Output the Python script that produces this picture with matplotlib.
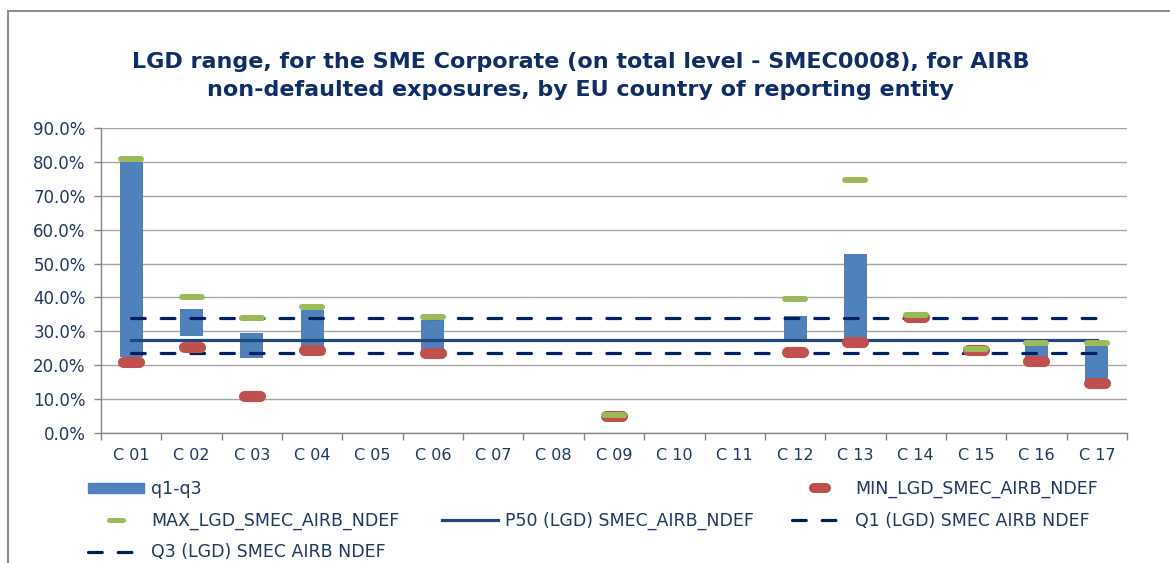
import numpy as np
import matplotlib
matplotlib.use("Agg")
import matplotlib.pyplot as plt
from matplotlib.lines import Line2D
from matplotlib.patches import Patch, Rectangle
from matplotlib.markers import MarkerStyle

plt.rcParams["font.family"] = ["DejaVu Sans"]

# data (LGD in %)
categories = ["C 01", "C 02", "C 03", "C 04", "C 05", "C 06", "C 07", "C 08", "C 09",
              "C 10", "C 11", "C 12", "C 13", "C 14", "C 15", "C 16", "C 17"]
q1 = [22.4, 28.6, 22.1, 25.5, np.nan, 24.5, np.nan, np.nan, np.nan,
      np.nan, np.nan, 27.3, 27.5, np.nan, np.nan, 22.0, 15.0]
q3 = [80.0, 36.6, 29.6, 36.4, np.nan, 33.4, np.nan, np.nan, np.nan,
      np.nan, np.nan, 34.6, 52.9, np.nan, np.nan, 26.3, 25.6]
min_lgd = [21.0, 25.4, 10.8, 24.4, np.nan, 23.7, np.nan, np.nan, 5.0,
           np.nan, np.nan, 23.8, 27.0, 34.3, 24.5, 21.2, 14.9]
max_lgd = [81.0, 40.2, 33.8, 37.3, np.nan, 34.3, np.nan, np.nan, 5.4,
           np.nan, np.nan, 39.6, 74.6, 34.9, 24.8, 26.7, 26.5]
p50 = [27.3, 27.3, 27.3, 27.3, 27.3, 27.3, 27.3, 27.3, 27.3,
       27.3, 27.3, 27.3, 27.3, 27.3, 27.3, 27.3, 27.3]
q1_line = [23.6, 23.6, 23.6, 23.6, 23.6, 23.6, 23.6, 23.6, 23.6,
           23.6, 23.6, 23.6, 23.6, 23.6, 23.6, 23.6, 23.6]
q3_line = [33.9, 33.9, 33.9, 33.9, 33.9, 33.9, 33.9, 33.9, 33.9,
           33.9, 33.9, 33.9, 33.9, 33.9, 33.9, 33.9, 33.9]

blue = "#4F81BD"
red = "#C0504D"
green = "#9BBB59"
navy = "#1F497D"
dark_navy = "#002060"
text_col = "#1F3864"
grid_col = "#A6A6A6"

fig = plt.figure(figsize=(11.7, 5.63), dpi=100)
ax = fig.add_axes([101 / 1170, 1 - 433 / 563, (1127 - 101) / 1170, (433 - 128) / 563])

x = np.arange(len(categories))
q1_arr = np.array(q1)
q3_arr = np.array(q3)

ax.bar(x, q3_arr - q1_arr, bottom=q1_arr, width=0.38, color=blue, zorder=2)

dash = (0, (4.3, 5.0))
ax.plot(x, p50, color=navy, lw=2.3, zorder=3)
ax.plot(x, q1_line, color=dark_navy, lw=2.3, linestyle=dash, dash_capstyle="round", zorder=3)
ax.plot(x, q3_line, color=dark_navy, lw=2.3, linestyle=dash, dash_capstyle="round", zorder=3)

bar_marker = MarkerStyle("_", capstyle="round")
ax.plot(x, min_lgd, ls="none", marker=bar_marker, markersize=12,
        markeredgewidth=8, color=red, zorder=4)
ax.plot(x, max_lgd, ls="none", marker=bar_marker, markersize=14.5,
        markeredgewidth=4.3, color=green, zorder=5)

ax.set_xlim(-0.5, len(categories) - 0.5)
ax.set_ylim(0, 90)
ax.set_yticks(np.arange(0, 91, 10))
ax.set_yticklabels([f"{v:.1f}%" for v in np.arange(0, 91, 10)])
ax.set_xticks(np.arange(-0.5, len(categories), 1))
ax.set_xticklabels([])
ax.set_xticks(x, minor=True)
ax.set_xticklabels(categories, minor=True)
ax.tick_params(axis="x", which="major", length=5, color="#868686", width=1)
ax.tick_params(axis="x", which="minor", length=0, pad=11, labelsize=11.5, labelcolor=text_col)
ax.tick_params(axis="y", length=5, color="#868686", width=1, labelsize=12,
               labelcolor=text_col, pad=6)

ax.grid(axis="y", color=grid_col, lw=1, zorder=0)
ax.set_axisbelow(True)
for s in ["top", "right"]:
    ax.spines[s].set_visible(False)
for s in ["left", "bottom"]:
    ax.spines[s].set_color("#868686")
    ax.spines[s].set_linewidth(1)

# chart frame (runs off right and bottom edges)
fig.patches.append(Rectangle((8 / 1170, -0.1), 1.2, 1.1 - 11 / 563, transform=fig.transFigure,
                             fill=False, edgecolor="#8C8C8C", lw=1.5))

fig.text(0.496, 1 - 76 / 563,
         "LGD range, for the SME Corporate (on total level - SMEC0008), for AIRB\n"
         "non-defaulted exposures, by EU country of reporting entity",
         ha="center", va="center", fontsize=16, fontweight="bold", color="#0F2D69",
         linespacing=1.55)

# legend: three columns placed like the Excel legend
blank = Line2D([], [], alpha=0)
dash_handle = Line2D([], [], color=dark_navy, lw=2.3, linestyle=dash, dash_capstyle="round")
columns = [
    (88, [(Patch(color=blue), "q1-q3"),
          (Line2D([], [], ls="none", marker=bar_marker, markersize=9.4,
                  markeredgewidth=3.6, color=green), "MAX_LGD_SMEC_AIRB_NDEF"),
          (dash_handle, "Q3 (LGD) SMEC AIRB NDEF")]),
    (442, [(blank, " "),
           (Line2D([], [], color=navy, lw=2.3), "P50 (LGD) SMEC_AIRB_NDEF"),
           (blank, " ")]),
    (792, [(Line2D([], [], ls="none", marker=bar_marker, markersize=8.6,
                   markeredgewidth=7.2, color=red), "MIN_LGD_SMEC_AIRB_NDEF"),
           (dash_handle, "Q1 (LGD) SMEC AIRB NDEF"),
           (blank, " ")]),
]
for x0, items in columns:
    leg = fig.legend([h for h, _ in items], [l for _, l in items], loc="upper left",
                     bbox_to_anchor=(x0 / 1170, 1 - 480 / 563), frameon=False,
                     fontsize=12.5, handlelength=3.2, handleheight=0.5, handletextpad=0.45,
                     labelspacing=0.78, borderpad=0, borderaxespad=0)
    for t in leg.get_texts():
        t.set_color(text_col)

fig.savefig("out.png", dpi=100)
